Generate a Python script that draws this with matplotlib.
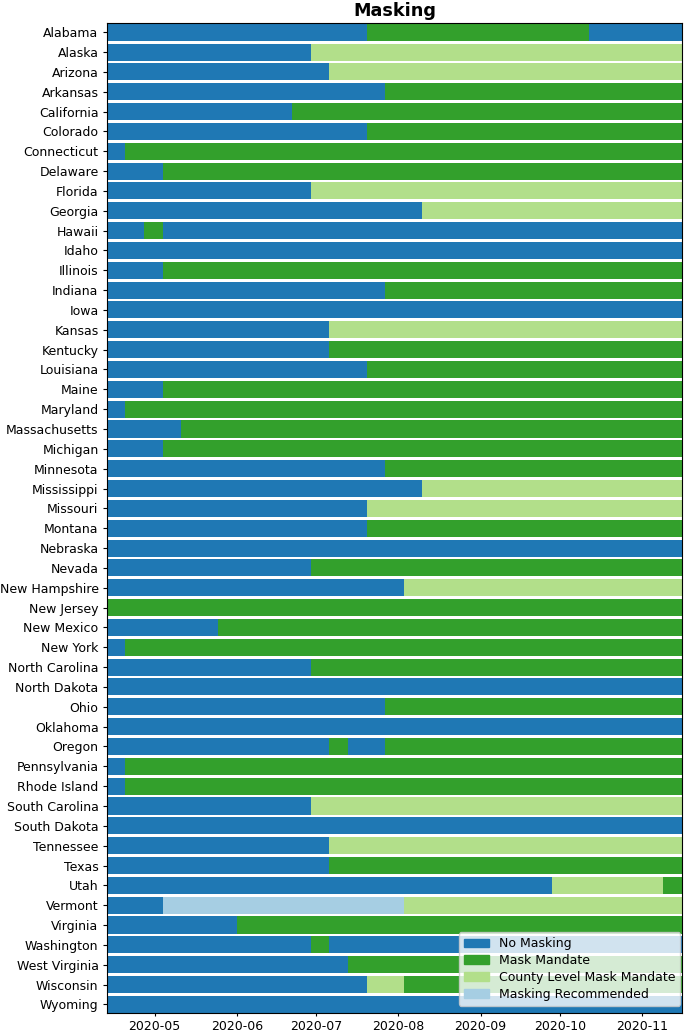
import datetime as dt

import matplotlib
matplotlib.use('Agg')
import matplotlib.pyplot as plt
import matplotlib.dates as mdates
from matplotlib.patches import Patch

# policy levels and their colours
levels = ['No Masking', 'Mask Mandate', 'County Level Mask Mandate', 'Masking Recommended']
level_colors = ['#1f78b4', '#33a02c', '#b2df8a', '#a6cee3']

start_date = '2020-04-13'
end_date = '2020-11-16'

states = ['Alabama', 'Alaska', 'Arizona', 'Arkansas', 'California', 'Colorado',
          'Connecticut', 'Delaware', 'Florida', 'Georgia', 'Hawaii', 'Idaho',
          'Illinois', 'Indiana', 'Iowa', 'Kansas', 'Kentucky', 'Louisiana',
          'Maine', 'Maryland', 'Massachusetts', 'Michigan', 'Minnesota',
          'Mississippi', 'Missouri', 'Montana', 'Nebraska', 'Nevada',
          'New Hampshire', 'New Jersey', 'New Mexico', 'New York',
          'North Carolina', 'North Dakota', 'Ohio', 'Oklahoma', 'Oregon',
          'Pennsylvania', 'Rhode Island', 'South Carolina', 'South Dakota',
          'Tennessee', 'Texas', 'Utah', 'Vermont', 'Virginia', 'Washington',
          'West Virginia', 'Wisconsin', 'Wyoming']

# (date the policy starts, level index) for each state, weekly data
changes = [
    [('2020-04-13', 0), ('2020-07-20', 1), ('2020-10-12', 0)],   # Alabama
    [('2020-04-13', 0), ('2020-06-29', 2)],                      # Alaska
    [('2020-04-13', 0), ('2020-07-06', 2)],                      # Arizona
    [('2020-04-13', 0), ('2020-07-27', 1)],                      # Arkansas
    [('2020-04-13', 0), ('2020-06-22', 1)],                      # California
    [('2020-04-13', 0), ('2020-07-20', 1)],                      # Colorado
    [('2020-04-13', 0), ('2020-04-20', 1)],                      # Connecticut
    [('2020-04-13', 0), ('2020-05-04', 1)],                      # Delaware
    [('2020-04-13', 0), ('2020-06-29', 2)],                      # Florida
    [('2020-04-13', 0), ('2020-08-10', 2)],                      # Georgia
    [('2020-04-13', 0), ('2020-04-27', 1), ('2020-05-04', 0)],   # Hawaii
    [('2020-04-13', 0)],                                         # Idaho
    [('2020-04-13', 0), ('2020-05-04', 1)],                      # Illinois
    [('2020-04-13', 0), ('2020-07-27', 1)],                      # Indiana
    [('2020-04-13', 0)],                                         # Iowa
    [('2020-04-13', 0), ('2020-07-06', 2)],                      # Kansas
    [('2020-04-13', 0), ('2020-07-06', 1)],                      # Kentucky
    [('2020-04-13', 0), ('2020-07-20', 1)],                      # Louisiana
    [('2020-04-13', 0), ('2020-05-04', 1)],                      # Maine
    [('2020-04-13', 0), ('2020-04-20', 1)],                      # Maryland
    [('2020-04-13', 0), ('2020-05-11', 1)],                      # Massachusetts
    [('2020-04-13', 0), ('2020-05-04', 1)],                      # Michigan
    [('2020-04-13', 0), ('2020-07-27', 1)],                      # Minnesota
    [('2020-04-13', 0), ('2020-08-10', 2)],                      # Mississippi
    [('2020-04-13', 0), ('2020-07-20', 2)],                      # Missouri
    [('2020-04-13', 0), ('2020-07-20', 1)],                      # Montana
    [('2020-04-13', 0)],                                         # Nebraska
    [('2020-04-13', 0), ('2020-06-29', 1)],                      # Nevada
    [('2020-04-13', 0), ('2020-08-03', 2)],                      # New Hampshire
    [('2020-04-13', 1)],                                         # New Jersey
    [('2020-04-13', 0), ('2020-05-25', 1)],                      # New Mexico
    [('2020-04-13', 0), ('2020-04-20', 1)],                      # New York
    [('2020-04-13', 0), ('2020-06-29', 1)],                      # North Carolina
    [('2020-04-13', 0)],                                         # North Dakota
    [('2020-04-13', 0), ('2020-07-27', 1)],                      # Ohio
    [('2020-04-13', 0)],                                         # Oklahoma
    [('2020-04-13', 0), ('2020-07-06', 1), ('2020-07-13', 0), ('2020-07-27', 1)],  # Oregon
    [('2020-04-13', 0), ('2020-04-20', 1)],                      # Pennsylvania
    [('2020-04-13', 0), ('2020-04-20', 1)],                      # Rhode Island
    [('2020-04-13', 0), ('2020-06-29', 2)],                      # South Carolina
    [('2020-04-13', 0)],                                         # South Dakota
    [('2020-04-13', 0), ('2020-07-06', 2)],                      # Tennessee
    [('2020-04-13', 0), ('2020-07-06', 1)],                      # Texas
    [('2020-04-13', 0), ('2020-09-28', 2), ('2020-11-09', 1)],   # Utah
    [('2020-04-13', 0), ('2020-05-04', 3), ('2020-08-03', 2)],   # Vermont
    [('2020-04-13', 0), ('2020-06-01', 1)],                      # Virginia
    [('2020-04-13', 0), ('2020-06-29', 1), ('2020-07-06', 0)],   # Washington
    [('2020-04-13', 0), ('2020-07-13', 1)],                      # West Virginia
    [('2020-04-13', 0), ('2020-07-20', 2), ('2020-08-03', 1)],   # Wisconsin
    [('2020-04-13', 0)],                                         # Wyoming
]


def to_num(s):
    return mdates.date2num(dt.datetime.strptime(s, '%Y-%m-%d'))


fig = plt.figure(figsize=(6.85, 10.34), dpi=100)
ax = fig.add_axes([0.156, 0.0200, 0.8396, 0.9575])

x_end = to_num(end_date)
for row, segs in enumerate(changes):
    for i, (d, lvl) in enumerate(segs):
        left = to_num(d)
        right = to_num(segs[i + 1][0]) if i + 1 < len(segs) else x_end
        ax.barh(row, right - left, left=left, height=0.86,
                color=level_colors[lvl], linewidth=0)

ax.set_yticks(range(len(states)))
ax.set_yticklabels(states)
ax.set_ylim(len(states) - 0.55, -0.45)
ax.set_xlim(to_num(start_date), x_end)

ax.xaxis.set_major_locator(mdates.MonthLocator())
ax.xaxis.set_major_formatter(mdates.DateFormatter('%Y-%m'))
ax.tick_params(labelsize=9, length=3, pad=3)
ax.tick_params(axis='x', length=2.5, pad=2.5)

ax.set_title('Masking', fontsize=12.7, fontweight='bold', pad=5)

handles = [Patch(color=c, label=l) for c, l in zip(level_colors, levels)]
ax.legend(handles=handles, loc='lower right', fontsize=9, labelspacing=0.3,
          borderaxespad=0.15, bbox_to_anchor=(1.0, 0.006))

fig.savefig('out.png', dpi=100)
